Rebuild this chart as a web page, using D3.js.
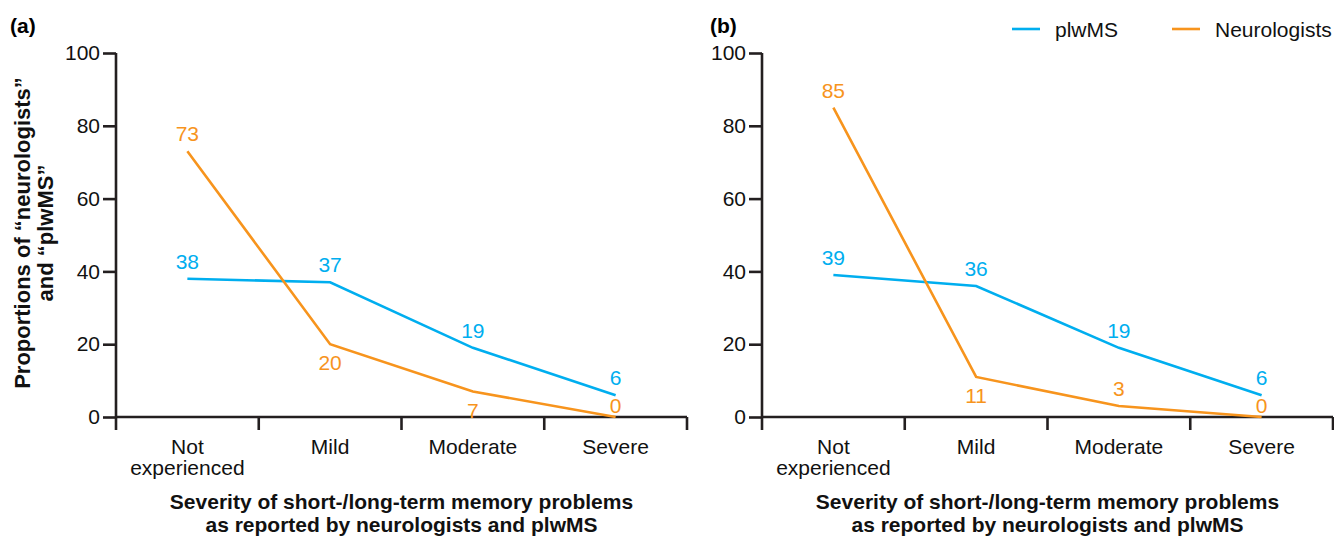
<!DOCTYPE html>
<html>
<head>
<meta charset="utf-8">
<script src="https://cdn.jsdelivr.net/npm/d3@7/dist/d3.min.js"></script>
<style>
  html, body { margin: 0; padding: 0; background: #fff; }
  svg { display: block; font-family: "Liberation Sans", Arial, sans-serif; }
</style>
</head>
<body>
<svg id="chart" width="1334" height="537"></svg>
<script>
// Severity categories (x axis)
const categories = ["Not experienced", "Mild", "Moderate", "Severe"];
const yTicks = [0, 20, 40, 60, 80, 100];

// Panel (a): proportions (%)
const plwmsA = [38, 37, 19, 6];
const neuroA = [73, 20, 7, 0];

// Panel (b): proportions (%)
const plwmsB = [39, 36, 19, 6];
const neuroB = [85, 11, 3, 0];

const seriesNames = ["plwMS", "Neurologists"];
const colors = { plwMS: "#00aeef", Neurologists: "#f7941d" };
const axisColor = "#231f20";
const textColor = "#111";
const fs = 21;

// Where each neurologist label sits relative to its point
const neuroPlacementA = ["above", "below", "below", "above"];
const neuroPlacementB = ["above", "below", "above", "above"];

const svg = d3.select("#chart");
const plotTop = 53, plotBottom = 417, bandSpan = 571;

function drawPanel(left, tag, tagX, plwms, neuro, neuroPlacement) {
  const g = svg.append("g");
  const x = d3.scaleBand().domain(categories).range([left, left + bandSpan]);
  const y = d3.scaleLinear().domain([0, 100]).range([plotBottom, plotTop]);

  // Panel tag
  g.append("text").attr("x", tagX).attr("y", 33)
    .attr("font-weight", "bold").attr("font-size", 21).attr("fill", "#000")
    .text(tag);

  // Y axis
  const yAxis = g.append("g").attr("transform", `translate(${left},0)`)
    .call(d3.axisLeft(y).tickValues(yTicks).tickSize(13).tickPadding(3));
  yAxis.select(".domain").attr("d", `M0,${plotTop}V${plotBottom}`);
  yAxis.selectAll(".domain").attr("stroke", axisColor).attr("stroke-width", 2.6);
  yAxis.selectAll(".tick line").attr("stroke", axisColor).attr("stroke-width", 2.6);
  yAxis.selectAll(".tick text").attr("font-size", fs).attr("fill", textColor)
    .attr("font-family", "Liberation Sans, Arial, sans-serif");

  // X axis: ticks at the band boundaries, labels at band centres
  const xAxis = g.append("g").attr("transform", `translate(0,${plotBottom})`);
  xAxis.append("line").attr("x1", left).attr("x2", left + bandSpan)
    .attr("y1", 0).attr("y2", 0).attr("stroke", axisColor).attr("stroke-width", 2.6);
  const bounds = categories.map(c => x(c)).concat([left + bandSpan]);
  xAxis.selectAll("line.tick").data(bounds).join("line").attr("class", "tick")
    .attr("x1", d => d).attr("x2", d => d).attr("y1", 0).attr("y2", 13)
    .attr("stroke", axisColor).attr("stroke-width", 2.6);
  const catLabels = xAxis.selectAll("text.cat").data(categories).join("text")
    .attr("class", "cat")
    .attr("x", d => x(d) + x.bandwidth() / 2).attr("y", 37)
    .attr("text-anchor", "middle").attr("font-size", fs).attr("fill", textColor);
  catLabels.each(function(d) {
    const words = d === "Not experienced" ? ["Not", "experienced"] : [d];
    const t = d3.select(this);
    words.forEach((w, i) => t.append("tspan")
      .attr("x", x(d) + x.bandwidth() / 2).attr("dy", i === 0 ? 0 : 21).text(w));
  });

  // X axis title, two lines
  const cx = left + bandSpan / 2;
  ["Severity of short-/long-term memory problems",
   "as reported by neurologists and plwMS"].forEach((txt, i) => {
    g.append("text").attr("x", cx).attr("y", 509 + i * 23)
      .attr("text-anchor", "middle").attr("font-weight", "bold")
      .attr("font-size", 21).attr("fill", textColor).text(txt);
  });

  // Lines and value labels
  const line = d3.line()
    .x((d, i) => x(categories[i]) + x.bandwidth() / 2)
    .y(d => y(d));
  const series = [
    { name: "plwMS", values: plwms, place: categories.map(() => "above") },
    { name: "Neurologists", values: neuro, place: neuroPlacement }
  ];
  series.forEach(s => {
    g.append("path").datum(s.values)
      .attr("d", line).attr("fill", "none")
      .attr("stroke", colors[s.name]).attr("stroke-width", 2.6)
      .attr("stroke-linejoin", "miter");
    g.selectAll(null).data(s.values).join("text")
      .attr("x", (d, i) => x(categories[i]) + x.bandwidth() / 2)
      .attr("y", (d, i) => y(d) + (s.place[i] === "below" ? 26 : (d === 0 ? -4 : -10)))
      .attr("text-anchor", "middle").attr("font-size", fs)
      .attr("fill", colors[s.name])
      .text(d => d);
  });
}

drawPanel(116, "(a)", 10, plwmsA, neuroA, neuroPlacementA);
drawPanel(762, "(b)", 710, plwmsB, neuroB, neuroPlacementB);

// Y axis title (panel a)
const yTitle = svg.append("text")
  .attr("transform", "translate(30,233) rotate(-90)")
  .attr("text-anchor", "middle").attr("font-weight", "bold")
  .attr("font-size", 22).attr("fill", textColor);
yTitle.append("tspan").attr("x", 0).text("Proportions of \u201cneurologists\u201d");
yTitle.append("tspan").attr("x", 0).attr("dy", 23).text("and \u201cplwMS\u201d");

// Legend
const legend = svg.append("g");
seriesNames.forEach((name, i) => {
  const lx = 1012 + i * 160;
  legend.append("line").attr("x1", lx).attr("x2", lx + 28)
    .attr("y1", 29).attr("y2", 29)
    .attr("stroke", colors[name]).attr("stroke-width", 2.6);
  legend.append("text").attr("x", lx + 43).attr("y", 37)
    .attr("font-size", fs).attr("fill", textColor).text(name);
});
</script>
</body>
</html>
